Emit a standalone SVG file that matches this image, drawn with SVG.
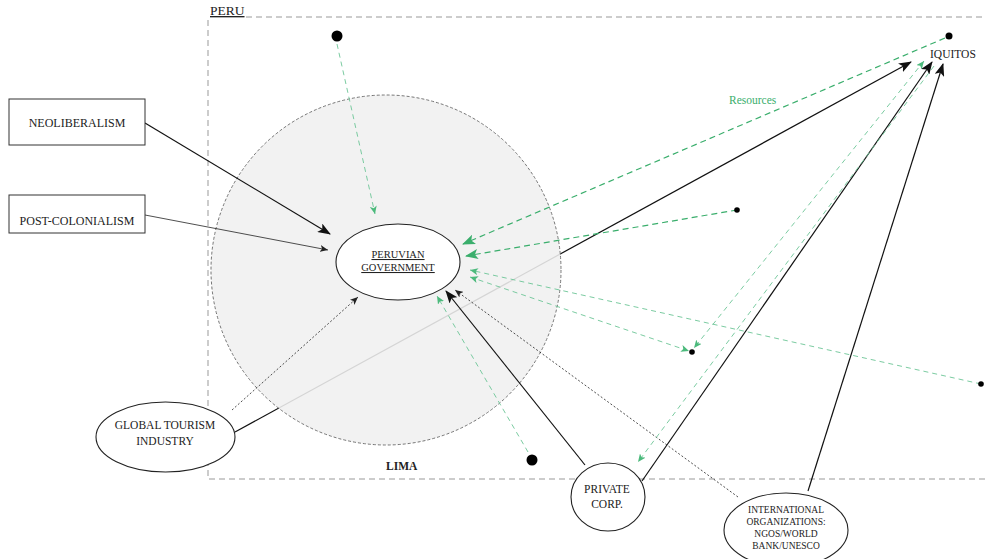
<svg xmlns="http://www.w3.org/2000/svg" width="985" height="559" viewBox="0 0 985 559" font-family="'Liberation Serif', 'DejaVu Serif', serif">
<style>
text{font-family:'Liberation Serif','DejaVu Serif',serif;fill:#222}
.box{fill:#fff;stroke:#333;stroke-width:1}
.node{fill:#fff;stroke:#222;stroke-width:1.1}
.blk{stroke:#111;stroke-width:1.2;fill:none}
.thin{stroke:#222;stroke-width:0.8;fill:none}
.dot{stroke:#222;stroke-width:0.8;stroke-dasharray:2 2;fill:none}
.grn{stroke:#3aae6c;stroke-width:1.2;stroke-dasharray:6 4;fill:none}
.lgrn{stroke:#6cc596;stroke-width:0.9;stroke-dasharray:5 4;fill:none}
</style>
<defs>
<marker id="ab" markerUnits="userSpaceOnUse" markerWidth="14" markerHeight="10" refX="12" refY="5" orient="auto"><path d="M0,0 L13,5 L0,10 L3,5 z" fill="#111"/></marker>
<marker id="abs" markerUnits="userSpaceOnUse" markerWidth="9" markerHeight="7" refX="8" refY="3.5" orient="auto"><path d="M0,0 L8,3.5 L0,7 L2,3.5 z" fill="#222"/></marker>
<marker id="ag" markerUnits="userSpaceOnUse" markerWidth="14" markerHeight="10" refX="12" refY="5" orient="auto"><path d="M0,0 L13,5 L0,10 L3,5 z" fill="#3aae6c"/></marker>
<marker id="ags" markerUnits="userSpaceOnUse" markerWidth="9" markerHeight="7" refX="8" refY="3.5" orient="auto-start-reverse"><path d="M0,0 L8,3.5 L0,7 L2,3.5 z" fill="#4cba7c"/></marker>
</defs>

<g id="peru-frame">
<path d="M246,17 H985 M208,20 V479 H985" fill="none" stroke="#999" stroke-width="1" stroke-dasharray="6 4"/>
<text x="210" y="15" font-size="13.5" text-decoration="underline">PERU</text>
</g>

<g id="under-lines">
<line class="blk" x1="235" y1="432" x2="911" y2="62" marker-end="url(#ab)"/>
</g>

<g id="lima">
<circle cx="386" cy="270" r="175" fill="#f0f0f0" fill-opacity="0.88" stroke="#666" stroke-width="0.9" stroke-dasharray="3 2"/>
<text x="386" y="470" font-size="11.5" font-weight="bold">LIMA</text>
</g>

<g id="connectors">
<line class="blk" x1="145" y1="123" x2="330" y2="234" marker-end="url(#ab)"/>
<line class="thin" x1="145" y1="215" x2="328" y2="250" marker-end="url(#abs)"/>
<line class="dot" x1="232" y1="410" x2="358" y2="297" marker-end="url(#abs)"/>
<line class="blk" x1="585" y1="465" x2="446" y2="291" marker-end="url(#ab)"/>
<line class="blk" x1="642" y1="481" x2="932" y2="62" marker-end="url(#ab)"/>
<line class="dot" x1="738" y1="497" x2="455" y2="290" marker-end="url(#abs)"/>
<line class="blk" x1="808" y1="491" x2="943" y2="64" marker-end="url(#ab)"/>

<line class="lgrn" x1="337" y1="44" x2="375" y2="214" marker-end="url(#ags)"/>
<line class="grn" x1="945" y1="38" x2="463" y2="244" marker-end="url(#ag)"/>
<line class="grn" x1="737" y1="210" x2="466" y2="256" marker-end="url(#ag)"/>
<line class="lgrn" x1="981" y1="384" x2="470" y2="270" marker-end="url(#ags)"/>
<line class="lgrn" x1="470" y1="277" x2="689" y2="351" marker-start="url(#ags)" marker-end="url(#ags)"/>
<line class="lgrn" x1="528" y1="452" x2="437" y2="296" marker-end="url(#ags)"/>
<line class="lgrn" x1="924" y1="61" x2="694" y2="348" marker-start="url(#ags)" marker-end="url(#ags)"/>
<line class="lgrn" x1="934" y1="66" x2="638" y2="462" marker-end="url(#ags)"/>
<text x="729" y="104" font-size="11.5" style="fill:#3aae6c">Resources</text>
</g>

<g id="dots">
<circle cx="337" cy="36" r="5.5" fill="#000"/>
<circle cx="949" cy="36" r="3.5" fill="#000"/>
<circle cx="737" cy="210" r="2.8" fill="#000"/>
<circle cx="692" cy="352" r="2.8" fill="#000"/>
<circle cx="981" cy="384" r="2.8" fill="#000"/>
<circle cx="532" cy="460" r="5.5" fill="#000"/>
</g>

<g id="iquitos">
<text x="930" y="58" font-size="11.5">IQUITOS</text>
</g>

<g id="neoliberalism">
<rect class="box" x="9" y="99" width="136" height="46"/>
<text x="77" y="127" font-size="12" text-anchor="middle">NEOLIBERALISM</text>
</g>

<g id="post-colonialism">
<rect class="box" x="9" y="195" width="136" height="38"/>
<text x="77" y="225" font-size="12" text-anchor="middle">POST-COLONIALISM</text>
</g>

<g id="peruvian-government">
<ellipse class="node" cx="398" cy="262" rx="62" ry="38" fill="none"/>
<text x="398" y="258" font-size="10.5" text-anchor="middle" text-decoration="underline">PERUVIAN</text>
<text x="398" y="271" font-size="10.5" text-anchor="middle" text-decoration="underline">GOVERNMENT</text>
</g>

<g id="global-tourism">
<ellipse class="node" cx="165.5" cy="437" rx="69.5" ry="35"/>
<text x="165" y="429" font-size="11.5" text-anchor="middle">GLOBAL TOURISM</text>
<text x="165" y="445" font-size="11.5" text-anchor="middle">INDUSTRY</text>
</g>

<g id="private-corp">
<ellipse class="node" cx="608" cy="497" rx="37" ry="34"/>
<text x="607" y="493" font-size="11.5" text-anchor="middle">PRIVATE</text>
<text x="607" y="508" font-size="11.5" text-anchor="middle">CORP.</text>
</g>

<g id="international-organizations">
<ellipse class="node" cx="786" cy="530" rx="62" ry="37"/>
<text x="786" y="513" font-size="9.5" text-anchor="middle">INTERNATIONAL</text>
<text x="786" y="525" font-size="9.5" text-anchor="middle">ORGANIZATIONS:</text>
<text x="786" y="537" font-size="9.5" text-anchor="middle">NGOS/WORLD</text>
<text x="786" y="549" font-size="9.5" text-anchor="middle">BANK/UNESCO</text>
</g>
</svg>
